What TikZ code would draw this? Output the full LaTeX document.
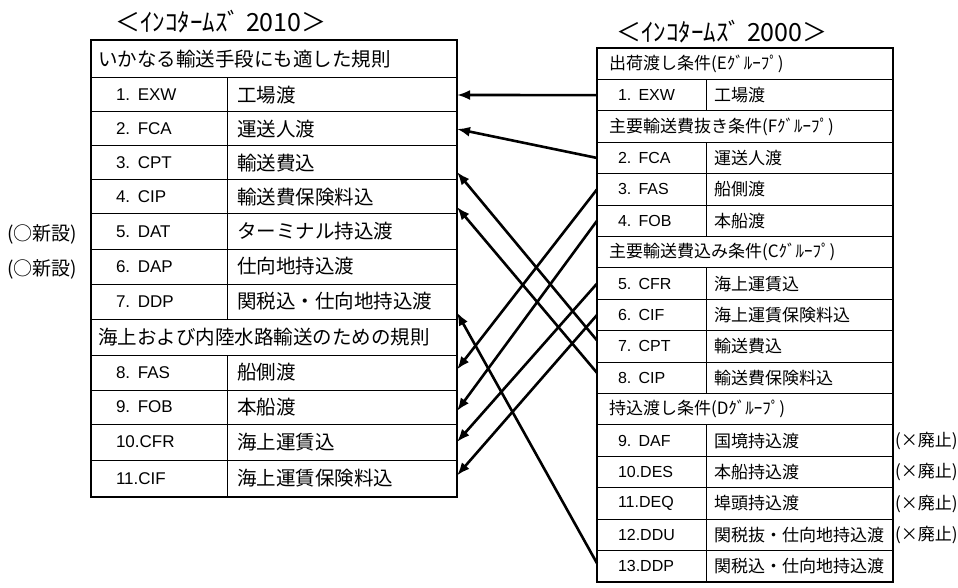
\documentclass[tikz,border=0pt]{standalone}
\usepackage{fontspec}
\setmainfont{Noto Sans CJK JP}
\newfontfamily\lat{Liberation Sans}
\usetikzlibrary{arrows.meta}
\newcommand\fs[1]{\fontsize{#1}{#1}\selectfont}
% left table rows: name, top, height, code, text
\newcommand\Lrow[5]{%
  \node[lcode, minimum height=#3pt] (L-#1-c) at (91,#2) {#4};
  \node[lname, minimum height=#3pt] (L-#1-n) at (227,#2) {#5};}
\newcommand\Lhdr[4]{%
  \node[lhead, minimum height=#3pt] (L-#1) at (91,#2) {#4};}
% right table rows: name, top, code, text
\newcommand\Rrow[4]{%
  \node[rcode, minimum height=31.41pt] (R-#1-c) at (597,#2) {#3};
  \node[rname, minimum height=31.41pt] (R-#1-n) at (706,#2) {#4};}
\newcommand\Rhdr[3]{%
  \node[rhead, minimum height=31.41pt] (R-#1) at (597,#2) {#3};}
\begin{document}
\begin{tikzpicture}[x=1pt,y=-1pt,
  cellbase/.style={draw, line width=1pt, anchor=north west, inner ysep=0pt, outer sep=0pt, align=left},
  lcode/.style={cellbase, inner xsep=25pt, text width=86pt, font=\lat\fs{17}},
  lname/.style={cellbase, inner xsep=10pt, text width=210pt, font=\fs{19.5}},
  lhead/.style={cellbase, inner xsep=7pt, text width=352pt, font=\fs{19.5}},
  rcode/.style={cellbase, inner xsep=21pt, text width=67pt, font=\lat\fs{16}},
  rname/.style={cellbase, inner xsep=8pt, text width=171pt, font=\fs{17}},
  rhead/.style={cellbase, inner xsep=12pt, text width=272pt, font=\fs{17}},
  title/.style={font=\fs{25}, inner sep=0pt},
  note/.style={font=\fs{17}, inner sep=0pt},
  conn/.style={line width=2.6pt, -{Latex[length=13pt,width=10pt]}},
]
\useasboundingbox (0,0) rectangle (958,588);
\fill[white] (0,0) rectangle (958,588);

% titles
\node[title] (t2010) at (221,22) {＜ｲﾝｺﾀｰﾑｽﾞ 2010＞};
\node[title] (t2000) at (722,32) {＜ｲﾝｺﾀｰﾑｽﾞ 2000＞};

% left table (2010)
\Lhdr{h1}{40}{38}{いかなる輸送手段にも適した規則}
\Lrow{exw}{78}{34}{1.\hspace{0.45em}EXW}{工場渡}
\Lrow{fca}{112}{34}{2.\hspace{0.45em}FCA}{運送人渡}
\Lrow{cpt}{146}{34}{3.\hspace{0.45em}CPT}{輸送費込}
\Lrow{cip}{180}{34}{4.\hspace{0.45em}CIP}{輸送費保険料込}
\Lrow{dat}{214}{35}{5.\hspace{0.45em}DAT}{ターミナル持込渡}
\Lrow{dap}{249}{35}{6.\hspace{0.45em}DAP}{仕向地持込渡}
\Lrow{ddp}{284}{35}{7.\hspace{0.45em}DDP}{関税込・仕向地持込渡}
\Lhdr{h2}{319}{36}{海上および内陸水路輸送のための規則}
\Lrow{fas}{355}{35}{8.\hspace{0.45em}FAS}{船側渡}
\Lrow{fob}{390}{34}{9.\hspace{0.45em}FOB}{本船渡}
\Lrow{cfr}{424}{36}{10.CFR}{海上運賃込}
\Lrow{cif}{460}{37}{11.CIF}{海上運賃保険料込}
\draw[line width=2.5pt] (91,40) rectangle (457,497);

% left notes
\node[note, font=\fs{19}] (new1) at (42,234) {(○新設)};
\node[note, font=\fs{19}] (new2) at (42,269) {(○新設)};

% right table (2000)
\Rhdr{hE}{48}{出荷渡し条件(Eｸﾞﾙｰﾌﾟ)}
\Rrow{exw}{79.41}{1.\hspace{0.45em}EXW}{工場渡}
\Rhdr{hF}{110.82}{主要輸送費抜き条件(Fｸﾞﾙｰﾌﾟ)}
\Rrow{fca}{142.24}{2.\hspace{0.45em}FCA}{運送人渡}
\Rrow{fas}{173.65}{3.\hspace{0.45em}FAS}{船側渡}
\Rrow{fob}{205.06}{4.\hspace{0.45em}FOB}{本船渡}
\Rhdr{hC}{236.47}{主要輸送費込み条件(Cｸﾞﾙｰﾌﾟ)}
\Rrow{cfr}{267.88}{5.\hspace{0.45em}CFR}{海上運賃込}
\Rrow{cif}{299.29}{6.\hspace{0.45em}CIF}{海上運賃保険料込}
\Rrow{cpt}{330.71}{7.\hspace{0.45em}CPT}{輸送費込}
\Rrow{cip}{362.12}{8.\hspace{0.45em}CIP}{輸送費保険料込}
\Rhdr{hD}{393.53}{持込渡し条件(Dｸﾞﾙｰﾌﾟ)}
\Rrow{daf}{424.94}{9.\hspace{0.45em}DAF}{国境持込渡}
\Rrow{des}{456.35}{10.DES}{本船持込渡}
\Rrow{deq}{487.76}{11.DEQ}{埠頭持込渡}
\Rrow{ddu}{519.18}{12.DDU}{関税抜・仕向地持込渡}
\Rrow{ddp}{550.59}{13.DDP}{関税込・仕向地持込渡}
\draw[line width=2pt] (597,48) rectangle (893,582);

% right notes
\node[note, anchor=west] (del1) at (895,441) {(×廃止)};
\node[note, anchor=west] (del2) at (895,472) {(×廃止)};
\node[note, anchor=west] (del3) at (895,504) {(×廃止)};
\node[note, anchor=west] (del4) at (895,535) {(×廃止)};

% connectors
\draw[conn] (R-exw-c.west) -- (L-exw-n.east);
\draw[conn] (R-fca-c.west) -- (L-fca-n.east);
\draw[conn] (R-fas-c.west) -- ([yshift=3pt]L-fas-n.east);
\draw[conn] (R-fob-c.west) -- ([yshift=-4pt]L-fob-n.east);
\draw[conn] (R-cfr-c.west) -- (L-cfr-n.east);
\draw[conn] (R-cif-c.west) -- ([yshift=3pt]L-cif-n.east);
\draw[conn] ([yshift=6pt]R-cpt-c.west) -- ([yshift=-9pt]L-cpt-n.east);
\draw[conn] ([yshift=5pt]R-cip-c.west) -- ([yshift=-10pt]L-cip-n.east);
\draw[conn] ([yshift=3pt]R-ddp-c.west) -- ([yshift=-11pt]L-ddp-n.east);
\end{tikzpicture}
\end{document}
